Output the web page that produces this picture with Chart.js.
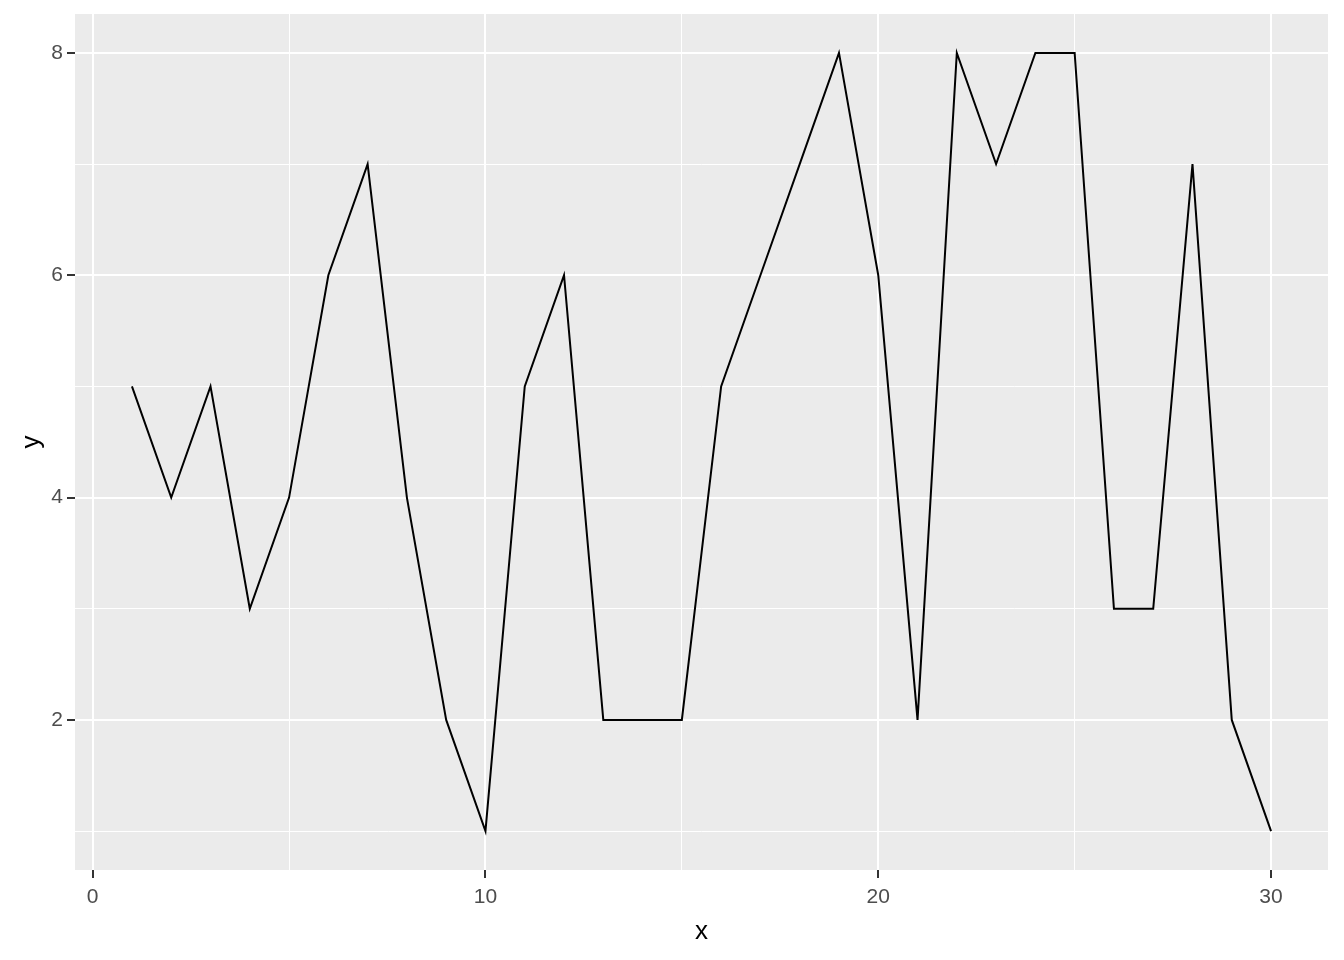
<!DOCTYPE html>
<html>
<head>
<meta charset="utf-8">
<script src="https://cdn.jsdelivr.net/npm/chart.js@4"></script>
<style>
  body { margin: 0; background: #fff; }
  canvas { display: block; }
</style>
</head>
<body>
<canvas id="chart" width="1344" height="960"></canvas>
<script>
const xValues = [1, 2, 3, 4, 5, 6, 7, 8, 9, 10, 11, 12, 13, 14, 15, 16, 17, 18, 19, 20, 21, 22, 23, 24, 25, 26, 27, 28, 29, 30];
const yValues = [5, 4, 5, 3, 4, 6, 7, 4, 2, 1, 5, 6, 2, 2, 2, 5, 6, 7, 8, 6, 2, 8, 7, 8, 8, 3, 3, 7, 2, 1];
const xMajorTicks = [0, 10, 20, 30];
const yMajorTicks = [2, 4, 6, 8];

const panelBg = {
    id: "panelBg",
    beforeDraw(chart) {
        const { ctx, chartArea: a } = chart;
        ctx.save();
        ctx.fillStyle = "#EBEBEB";
        ctx.fillRect(a.left, a.top, a.right - a.left, a.bottom - a.top);
        ctx.restore();
    },
};

const isMajor = (list) => (c) => c.tick && list.includes(c.tick.value);
const fontFamily = "Arial, 'Liberation Sans'";

// fixed box sizes so the panel sits where ggplot put it
const fitX = (s) => {
    s.height = 90;
    s.paddingLeft = 0;
    s.paddingRight = 0;
};
const fitY = (s) => {
    s.width = 75;
    s.paddingTop = 0;
    s.paddingBottom = 0;
};

new Chart(document.getElementById("chart"), {
    type: "line",
    data: {
        datasets: [
            {
                data: xValues.map((x, i) => ({ x: x, y: yValues[i] })),
                borderColor: "#000000",
                borderWidth: 2,
                pointRadius: 0,
                tension: 0,
                fill: false,
            },
        ],
    },
    plugins: [panelBg],
    options: {
        responsive: false,
        animation: false,
        layout: { padding: { top: 14, right: 16, left: 0, bottom: 0 } },
        plugins: { legend: { display: false }, tooltip: { enabled: false } },
        scales: {
            x: {
                type: "linear",
                min: -0.45,
                max: 31.45,
                afterFit: fitX,
                border: { display: false },
                grid: {
                    color: "#FFFFFF",
                    lineWidth: (c) => (isMajor(xMajorTicks)(c) ? 2 : 1),
                    drawTicks: true,
                    tickLength: 8,
                    tickWidth: 2,
                    tickColor: (c) => (isMajor(xMajorTicks)(c) ? "#333333" : "rgba(0,0,0,0)"),
                },
                ticks: {
                    stepSize: 5,
                    includeBounds: false,
                    autoSkip: false,
                    maxRotation: 0,
                    padding: 7,
                    color: "#4D4D4D",
                    font: { family: fontFamily, size: 21 },
                    callback: (v) => (xMajorTicks.includes(v) ? String(v) : ""),
                },
                title: {
                    display: true,
                    text: "x",
                    color: "#000000",
                    font: { family: fontFamily, size: 26 },
                    padding: { top: 0, bottom: 13 },
                },
            },
            y: {
                type: "linear",
                min: 0.65,
                max: 8.35,
                afterFit: fitY,
                border: { display: false },
                grid: {
                    color: "#FFFFFF",
                    lineWidth: (c) => (isMajor(yMajorTicks)(c) ? 2 : 1),
                    drawTicks: true,
                    tickLength: 8,
                    tickWidth: 2,
                    tickColor: (c) => (isMajor(yMajorTicks)(c) ? "#333333" : "rgba(0,0,0,0)"),
                },
                ticks: {
                    stepSize: 1,
                    includeBounds: false,
                    autoSkip: false,
                    padding: 4,
                    color: "#4D4D4D",
                    font: { family: fontFamily, size: 21 },
                    callback: (v) => (yMajorTicks.includes(v) ? String(v) : ""),
                },
                title: {
                    display: true,
                    text: "y",
                    color: "#000000",
                    font: { family: fontFamily, size: 26 },
                    padding: { top: 16, bottom: 0 },
                },
            },
        },
    },
});
</script>
</body>
</html>
